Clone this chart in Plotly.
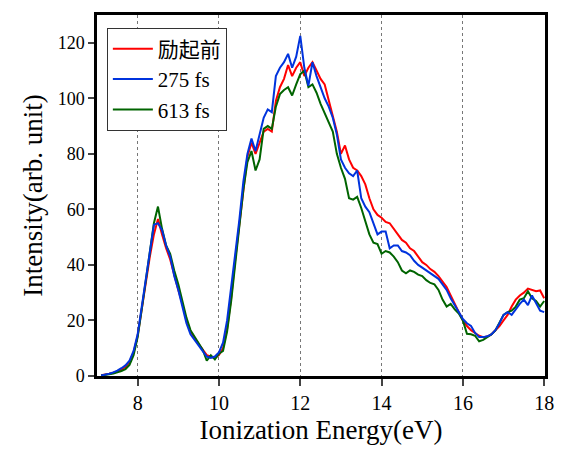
import plotly.graph_objects as go

energy = [round(7.1 + 0.1 * i, 1) for i in range(110)]

red_before = [
    0.3, 0.5, 0.8, 1.2, 1.6, 2.3, 3.2, 5.0, 8.5, 14.5,
    24, 34, 43, 51, 56.5, 51, 46, 42, 36, 31,
    26, 20, 16, 13.5, 11.5, 9.5, 7.5, 7, 6.5, 7.5,
    10, 17, 28, 42, 54, 68, 79, 84, 80, 84,
    88, 89, 88, 99, 104, 107, 112, 108, 111, 113,
    108, 111, 113, 110, 107, 105, 99, 94, 88, 80,
    83, 78, 75, 74, 72, 69, 64, 60, 58, 57,
    55.5, 55, 53, 51, 49, 48, 46, 45, 43, 41,
    40, 38.5, 37.5, 36, 34, 32, 29, 26, 23, 20,
    18, 16.5, 15.5, 14.5, 14, 14.2, 15, 16.5, 18, 20,
    22, 25, 27.5, 29, 30, 31.5, 31, 30.5, 30.8, 28,
]

blue_275 = [
    0.2, 0.4, 0.8, 1.3, 1.9, 2.8, 3.8, 5.5, 9, 15,
    25, 35, 45, 54.5, 55, 52.5, 47, 43, 36, 31,
    25, 19, 15, 13, 11, 9, 7, 6.5, 7, 8.5,
    12, 20, 31, 44, 56, 70, 80, 85.5, 81, 87,
    93, 96, 95, 108, 111, 113, 116, 111, 115, 122.5,
    111, 104.5, 113, 108, 104, 100, 97, 93, 87, 78,
    75, 73, 72, 74, 64, 61, 59, 55, 51, 52,
    52, 46, 47, 47, 45, 44.5, 43.5, 41.5, 40, 39,
    38, 37, 36, 35, 33, 31, 28, 25.5, 23, 20.5,
    19, 18, 15.5, 14, 14, 14.3, 15, 16.5, 19, 22,
    23, 22, 24, 26, 27.5, 25.5, 29, 26, 23.5, 23,
]

green_613 = [
    0.2, 0.3, 0.6, 0.9, 1.3, 1.8, 2.5, 4, 7.5, 14,
    24, 34, 44, 55, 61, 53, 47, 44, 38, 33,
    27, 21, 16.5, 14, 12, 9.5, 5.5, 7.5, 6, 8,
    9, 16, 27, 40, 53, 67, 77, 81, 74, 78,
    89, 90, 89, 97, 101.5, 103, 104, 101, 105, 108.7,
    110, 104, 105, 102, 98, 94.5, 91, 88, 80, 75,
    71, 64, 63.5, 64.5, 60.5, 56, 51, 48, 47.5, 44,
    45, 44.5, 43, 41, 38, 37, 38, 37.5, 36.5, 36,
    34.5, 33.5, 33, 31, 27.5, 25, 26, 24, 22.5, 20,
    15.2, 15, 14.5, 12.5, 13, 14, 15, 16.4, 19, 22,
    23, 23.5, 25, 27.5, 28, 30.5, 28, 27, 25, 27,
]

series_names = ["励起前", "275 fs", "613 fs"]
x_ticks = [8, 10, 12, 14, 16, 18]
y_ticks = [0, 20, 40, 60, 80, 100, 120]

FONT = "Times New Roman, Liberation Serif, DejaVu Serif, Noto Sans CJK JP"

fig = go.Figure()
fig.add_trace(go.Scatter(x=energy, y=red_before, mode="lines", name=series_names[0],
                         line=dict(color="#ff0000", width=2), legendrank=1))
fig.add_trace(go.Scatter(x=energy, y=green_613, mode="lines", name=series_names[2],
                         line=dict(color="#006400", width=2), legendrank=3))
fig.add_trace(go.Scatter(x=energy, y=blue_275, mode="lines", name=series_names[1],
                         line=dict(color="#0033dd", width=2), legendrank=2))

fig.update_layout(
    width=566, height=460,
    margin=dict(l=97, r=14, t=12, b=84),
    paper_bgcolor="white", plot_bgcolor="white",
    font=dict(family=FONT, color="black", size=17),
    showlegend=True,
    legend=dict(x=0.022, y=0.965, xanchor="left", yanchor="top",
                bgcolor="white", bordercolor="#333333", borderwidth=1,
                font=dict(size=21, family=FONT), tracegroupgap=0,
                itemwidth=40),
)
fig.update_xaxes(
    range=[7, 18.02], tickvals=x_ticks, ticks="outside", ticklen=7, tickwidth=2,
    showline=True, linewidth=2.5, linecolor="black", mirror=True,
    showgrid=True, gridcolor="#777777", griddash="dot", gridwidth=1,
    zeroline=False, tickfont=dict(size=20, family=FONT),
    title=dict(text="Ionization Energy(eV)", font=dict(size=27, family=FONT), standoff=8),
)
fig.update_yaxes(
    range=[0, 130], tickvals=y_ticks, ticks="outside", ticklen=6, tickwidth=2,
    showline=True, linewidth=2.5, linecolor="black", mirror=True,
    showgrid=False, zeroline=False, tickfont=dict(size=18, family=FONT),
    title=dict(text="Intensity(arb. unit)", font=dict(size=27, family=FONT), standoff=8),
)

fig.write_html("out.html")
